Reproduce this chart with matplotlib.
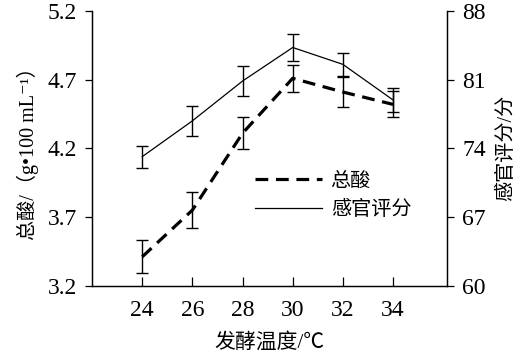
import matplotlib
matplotlib.use("Agg")
import matplotlib.pyplot as plt
from matplotlib.lines import Line2D

temps = [24, 26, 28, 30, 32, 34]
acid = [3.41, 3.75, 4.31, 4.71, 4.61, 4.52]
acid_err = [0.12, 0.13, 0.115, 0.10, 0.11, 0.095]
score = [73.15, 76.8, 80.86, 84.28, 82.56, 78.93]
score_err = [1.12, 1.5, 1.5, 1.38, 1.2, 1.27]
left_ticks = [3.2, 3.7, 4.2, 4.7, 5.2]
right_ticks = [60, 67, 74, 81, 88]

plt.rcParams['font.family'] = ['Liberation Serif', 'Noto Sans CJK SC', 'DejaVu Sans']

fig = plt.figure(figsize=(5.21, 3.59), dpi=100)
ax = fig.add_axes([92/521, 1-285.7/359, (447-92)/521, (285.7-11)/359])
ax2 = ax.twinx()

ax.errorbar(temps, acid, yerr=acid_err, fmt='none', ecolor='black', elinewidth=1.0,
            capsize=4.6, capthick=1.0)
ax.plot(temps, acid, color='black', lw=2.3, dashes=(4.0, 2.4))
ax2.errorbar(temps, score, yerr=score_err, fmt='none', ecolor='black', elinewidth=1.0,
             capsize=4.6, capthick=1.0)
ax2.plot(temps, score, color='black', lw=0.9)

ax.set_xlim(22, 36.15)
ax.set_ylim(3.2, 5.2)
ax2.set_ylim(60, 88)
ax.set_xticks(temps)
ax.set_yticks(left_ticks)
ax.set_yticklabels([f"{v:.1f}" for v in left_ticks])
ax2.set_yticks(right_ticks)

for a in (ax, ax2):
    a.spines['top'].set_visible(False)
    for s in a.spines.values():
        s.set_linewidth(0.9)
ax.tick_params(axis='x', direction='in', length=6.5, width=0.9, labelsize=17, pad=10)
ax.tick_params(axis='y', direction='out', length=5, width=0.9, labelsize=17, pad=6)
ax2.tick_params(axis='y', direction='out', length=5, width=0.9, labelsize=17, pad=6)

ax.set_xlabel('发酵温度/℃', fontsize=15, labelpad=9)
ax.set_ylabel('总酸/（g•100 mL⁻¹）', fontsize=14.5, labelpad=6)
ax2.set_ylabel('感官评分/分', fontsize=14.5, labelpad=8)

handles = [Line2D([], [], color='black', lw=2.3, dashes=(4.0, 2.4)),
           Line2D([], [], color='black', lw=0.9)]
fig.legend(handles, ['总酸', '感官评分'], loc='center left',
           bbox_to_anchor=(245/521, 1-196/359), frameon=False, fontsize=14.5,
           handlelength=3.3, handletextpad=0.45, borderpad=0, labelspacing=0.45)

fig.savefig('out.png', dpi=100)
